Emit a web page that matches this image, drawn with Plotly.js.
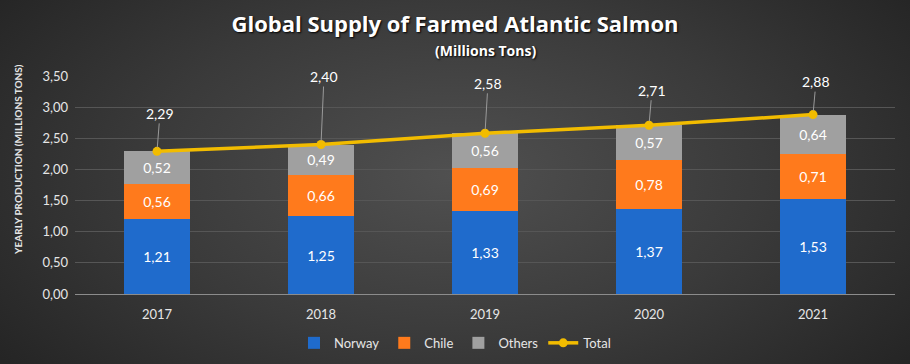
<!DOCTYPE html>
<html>
<head>
<meta charset="utf-8">
<script src="https://cdn.plot.ly/plotly-3.0.1.min.js"></script>
<style>
html,body{margin:0;padding:0;}
#chart{width:910px;height:364px;background:radial-gradient(ellipse 62% 85% at 50% 48%, #505050 0%, #3a3a3a 55%, #252525 100%);}
</style>
</head>
<body>
<div id="chart"></div>
<script>
const years = ['2017','2018','2019','2020','2021'];
const norway = [1.21, 1.25, 1.33, 1.37, 1.53];
const chile = [0.56, 0.66, 0.69, 0.78, 0.71];
const others = [0.52, 0.49, 0.56, 0.57, 0.64];
const total = [2.29, 2.40, 2.58, 2.71, 2.88];
const yTicks = [0, 0.5, 1, 1.5, 2, 2.5, 3, 3.5];
const labelOffsets = [-38, -68, -50, -35, -33];

const FONT = 'Lato, "Open Sans", sans-serif';
const TFONT = '"Open Sans", Lato, sans-serif';
const fmt = v => v.toFixed(2).replace('.', ',');

function barTrace(name, vals, color){
  return {
    type:'bar', name:name, x:years, y:vals,
    marker:{color:color, line:{width:0}},
    text: vals.map(fmt), texttemplate:'%{text}', textposition:'inside',
    insidetextanchor:'middle', textangle:0,
    textfont:{color:'#ffffff', size:14, family:FONT},
    hoverinfo:'skip'
  };
}

const data = [
  barTrace('Norway', norway, '#1f6bcc'),
  barTrace('Chile', chile, '#ff7a1c'),
  barTrace('Others', others, '#a0a0a0'),
  {
    type:'scatter', mode:'lines+markers', name:'Total', x:years, y:total,
    line:{color:'#f2bc00', width:3.5},
    marker:{color:'#f2bc00', size:9},
    hoverinfo:'skip'
  }
];

const annotations = years.map((yr,i)=>({
  x:i, y:total[i], xref:'x', yref:'y',
  text: fmt(total[i]),
  showarrow:true, arrowhead:0, arrowwidth:1, arrowcolor:'#9a9a9a',
  ax:3, ay:labelOffsets[i], standoff:4,
  font:{color:'#ffffff', size:14, family:FONT}
}));
annotations.push({
  text:'<b>(Millions Tons)</b>', xref:'paper', yref:'paper', x:0.5, y:1,
  xanchor:'center', yanchor:'middle', showarrow:false,
  yshift:26,
  font:{color:'#ffffff', size:14, family:TFONT, shadow:'1px 1px 2px #000'}
});
annotations.push({
  text:'<b>YEARLY PRODUCTION (MILLIONS TONS)</b>', xref:'paper', yref:'paper',
  x:0, xshift:-57, y:0.615, xanchor:'center', yanchor:'middle',
  textangle:-90, showarrow:false,
  font:{color:'#e6e6e6', size:10, family:FONT}
});

const layout = {
  width:910, height:364,
  paper_bgcolor:'rgba(0,0,0,0)', plot_bgcolor:'rgba(0,0,0,0)',
  barmode:'stack', bargap:0.6,
  margin:{l:75, r:15, t:76, b:70},
  font:{family:FONT, color:'#e0e0e0'},
  title:{
    text:'<b>Global Supply of Farmed Atlantic Salmon</b>',
    x:0.5, xanchor:'center', y:0.932, yanchor:'middle',
    font:{size:22, color:'#ffffff', family:TFONT, shadow:'1px 1px 2px #000'}
  },
  xaxis:{
    type:'category', showgrid:false, zeroline:false,
    showline:true, linecolor:'#8c8c8c', linewidth:1,
    ticks:'', ticklabelstandoff:8, tickfont:{size:13, color:'#e6e6e6'},
    automargin:false
  },
  yaxis:{
    range:[0,3.5], tickmode:'array', tickvals:yTicks, ticktext:yTicks.map(fmt),
    showgrid:true, gridcolor:'#565656', gridwidth:1,
    zeroline:false, showline:false, ticks:'', ticklabelstandoff:6,
    tickfont:{size:13, color:'#e6e6e6'}, automargin:false
  },
  legend:{
    orientation:'h', xref:'container', yref:'container',
    x:0.5, xanchor:'center', y:0.058, yanchor:'middle',
    font:{size:13, color:'#e6e6e6'}, traceorder:'normal'
  },
  annotations:annotations,
  showlegend:true
};

Plotly.newPlot('chart', data, layout, {displayModeBar:false, staticPlot:true});
</script>
</body>
</html>
